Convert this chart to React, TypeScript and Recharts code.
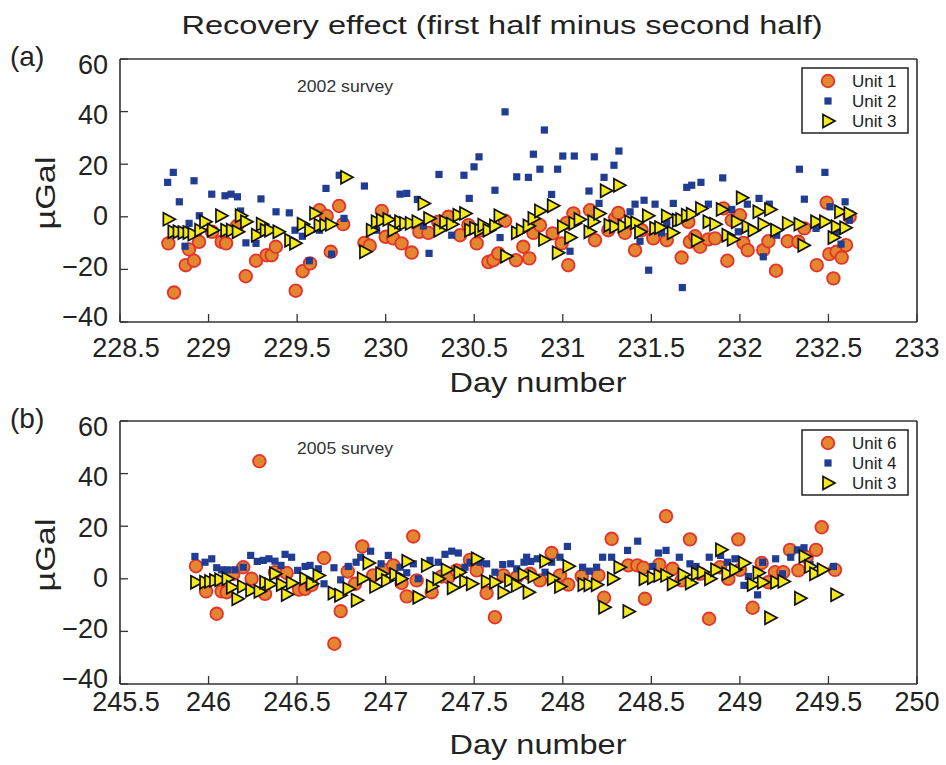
import React from 'react';
import { ScatterChart, Scatter, XAxis, YAxis } from 'recharts';

const FONT = '"Liberation Sans", Arial, Helvetica, sans-serif';
const INK = '#222';
const AX = '#333';

// 2002 survey: [day number, µGal]
const unit1_2002: [number, number][] = [
  [228.773, -10.1], [228.805, -28.8], [228.871, -18.4], [228.89, -12.4], [228.918, -16.7], [228.946, -9.5],
  [229.02, -5.7], [229.074, -9.5], [229.099, -10.1], [229.16, -3.5], [229.21, -22.6], [229.268, -16.7],
  [229.328, -14.6], [229.356, -14.6], [229.38, -11.4], [229.492, -28.1], [229.531, -20.7], [229.573, -17.7],
  [229.626, 2.5], [229.667, 0.3], [229.69, -13.3], [229.737, 4.1], [229.76, -2.8], [229.88, -9.9],
  [229.91, -11], [229.978, 2.2], [230.0, -7.6], [230.043, -8.2], [230.09, -10.1], [230.147, -13.6],
  [230.19, -5.7], [230.241, -6.1], [230.297, -1.9], [230.354, 0], [230.42, -7.0], [230.467, -3.2],
  [230.514, -10.1], [230.533, -5.1], [230.58, -17.2], [230.608, -16.5], [230.636, -13.9], [230.674, -1.5],
  [230.736, -16.5], [230.777, -11.4], [230.811, -15.8], [230.834, -6.1], [230.871, -3.2], [230.943, -6.3],
  [230.994, -10.1], [231.022, -2.3], [231.031, -18.4], [231.06, 1.3], [231.154, 2.5], [231.182, -8.9],
  [231.257, -5.1], [231.295, -0.6], [231.314, 1.5], [231.351, -6.1], [231.408, -12.7], [231.445, -5.1],
  [231.511, -8.2], [231.587, -8.9], [231.671, -15.5], [231.709, -1.9], [231.718, -9.5], [231.747, -7.4],
  [231.775, -11.4], [231.822, -8.6], [231.86, -8.2], [231.907, 3.2], [231.929, -16.7], [231.954, -1.3],
  [232.0, 0.6], [232.02, -9.9], [232.044, -12.7], [232.132, -12.7], [232.161, -9.3], [232.204, -20.5],
  [232.27, -9.3], [232.33, -9.5], [232.364, -4.4], [232.434, -18.4], [232.49, 5.4], [232.505, -14.2],
  [232.528, -23.4], [232.546, -13.3], [232.575, -15.5], [232.599, -10.8], [232.62, 0],
];

const unit2_2002: [number, number][] = [
  [228.769, 13.1], [228.801, 16.9], [228.835, 5.7], [228.867, -11.2], [228.89, -2.5], [228.918, 13.7],
  [228.948, 0.4], [229.018, 8.6], [229.093, 8.0], [229.127, 8.6], [229.163, 7.6], [229.181, 2.2],
  [229.211, -9.9], [229.268, -10.1], [229.296, 6.8], [229.381, 1.9], [229.456, 1.5], [229.488, -5.1],
  [229.53, -7.4], [229.569, -16.7], [229.626, -5.1], [229.663, 10.8], [229.695, -14.2], [229.738, 15.8],
  [229.765, -0.6], [229.88, 11.7], [229.949, -5.1], [230.01, -0.5], [230.081, 8.6], [230.119, 8.9],
  [230.179, 6.6], [230.213, -3.5], [230.245, -13.9], [230.301, 16.1], [230.373, -7.0], [230.442, 15.8],
  [230.472, 7.0], [230.499, 19.0], [230.527, 22.8], [230.617, 10.1], [230.646, -7.9], [230.674, 39.9],
  [230.74, 15.2], [230.806, 15.0], [230.834, 23.8], [230.871, 18.1], [230.896, 33.0], [230.937, 8.5],
  [230.971, 18.1], [231.0, 23.1], [231.041, -13.1], [231.065, 23.1], [231.148, 9.8], [231.178, 22.8],
  [231.205, 5.1], [231.233, 15.0], [231.289, 19.6], [231.317, 25.0], [231.38, 1.9], [231.408, 4.8],
  [231.436, -9.3], [231.459, 6.3], [231.485, -20.3], [231.521, 4.8], [231.558, -6.1], [231.587, -2.3],
  [231.624, 5.1], [231.675, -26.9], [231.7, 11.2], [231.728, 12.0], [231.78, 13.1], [231.822, 4.8],
  [231.903, 14.8], [231.954, 2.8], [231.991, -5.7], [232.042, 4.8], [232.108, 7.0], [232.132, -15.2],
  [232.166, 4.8], [232.208, -7.0], [232.336, 18.1], [232.364, 6.7], [232.43, -4.4], [232.48, 16.9],
  [232.509, 3.8], [232.546, -5.7], [232.571, -10.4], [232.594, 5.7], [232.618, -1.3],
];

const unit3_2002: [number, number][] = [
  [228.773, -0.9], [228.801, -5.7], [228.83, -5.7], [228.858, -6.0], [228.886, -6.0], [228.914, -6.6],
  [228.952, -5.1], [228.98, -1.9], [229.023, -5.1], [229.07, 0.4], [229.099, -5.1], [229.131, -5.1],
  [229.164, -5.7], [229.181, 0.4], [229.211, -1.9], [229.272, -7.0], [229.3, -2.8], [229.322, -5.1],
  [229.347, -5.1], [229.394, -5.7], [229.46, -8.9], [229.488, -10.1], [229.531, -2.8], [229.573, -5.1],
  [229.601, 1.3], [229.626, -3.2], [229.658, -3.2], [229.69, -2.9], [229.776, 15.0], [229.883, -13.3],
  [229.921, -5.1], [229.949, -1.9], [229.978, -1.3], [230.015, -1.0], [230.043, -5.1], [230.081, -1.9],
  [230.109, -2.5], [230.141, -2.5], [230.179, -1.9], [230.213, 5.1], [230.245, -0.6], [230.303, -5.1],
  [230.335, -1.9], [230.373, -2.8], [230.41, 0.6], [230.448, 1.3], [230.476, -5.1], [230.504, -4.4],
  [230.533, -5.1], [230.551, -3.2], [230.58, -5.1], [230.617, -3.5], [230.642, 0.4], [230.679, -15.0],
  [230.74, -6.1], [230.768, -5.1], [230.806, -3.5], [230.834, -0.6], [230.871, 2.2], [230.894, -8.6],
  [230.943, 4.2], [230.971, -13.7], [231.0, -3.8], [231.041, -7.9], [231.065, -2.5], [231.094, -1.0],
  [231.15, -5.7], [231.172, -1.9], [231.205, 1.3], [231.242, 9.9], [231.263, -3.2], [231.295, -3.8],
  [231.317, 12.0], [231.342, -3.5], [231.38, -1.9], [231.414, -2.3], [231.436, -5.7], [231.48, 0.4],
  [231.521, -4.4], [231.549, -4.1], [231.587, 0.3], [231.62, -6.1], [231.649, -1.3], [231.668, -1.0],
  [231.7, 0.6], [231.728, 1.0], [231.756, -8.9], [231.78, 3.2], [231.822, -1.9], [231.86, -2.8],
  [231.897, 2.8], [231.929, -7.0], [231.959, -8.6], [231.982, -1.9], [232.01, 7.2], [232.042, -3.8],
  [232.076, -5.1], [232.104, 1.9], [232.132, -2.8], [232.17, 2.8], [232.204, -5.1], [232.27, -2.5],
  [232.336, -2.8], [232.358, -10.8], [232.43, -1.9], [232.48, -1.9], [232.528, -7.9], [232.546, -3.8],
  [232.565, 1.9], [232.594, -4.2], [232.618, 1.3],
];

// 2005 survey
const unit6_2005: [number, number][] = [
  [245.929, 4.8], [245.986, -4.8], [246.046, -13.3], [246.074, -4.8], [246.102, -5.1], [246.14, 1.9],
  [246.196, 4.4], [246.243, 0], [246.287, 44.7], [246.319, -5.7], [246.375, 2.5], [246.441, 2.2],
  [246.511, -4.1], [246.545, -3.8], [246.582, -2.3], [246.652, 7.9], [246.71, -24.7], [246.746, -12.3],
  [246.786, 2.8], [246.827, -1.9], [246.868, 12.3], [246.93, 1.3], [246.987, 3.4], [247.043, 5.1],
  [247.09, -1.6], [247.119, -6.7], [247.156, 16.1], [247.175, -0.6], [247.26, -5.1], [247.316, 0.9],
  [247.354, 0.6], [247.401, 3.2], [247.476, 7.2], [247.514, 3.2], [247.57, -5.4], [247.617, -14.6],
  [247.664, 1.3], [247.74, 0.6], [247.815, 1.9], [247.871, -0.6], [247.937, 9.8], [247.984, 1.3],
  [248.031, -2.2], [248.107, 0.9], [248.201, 1.3], [248.233, -7.2], [248.276, 15.2], [248.37, 5.1],
  [248.421, 5.1], [248.455, 4.2], [248.464, -7.6], [248.545, 5.4], [248.583, 23.8], [248.62, 3.8],
  [248.671, -0.6], [248.718, 15.0], [248.775, 1.9], [248.826, -15.2], [248.888, 4.4], [248.935, 0],
  [248.991, 15.0], [249.0, 3.4], [249.072, -11.0], [249.123, 6.0], [249.16, -1.3], [249.198, 2.5],
  [249.245, 2.5], [249.283, 11.0], [249.33, 3.2], [249.377, 8.2], [249.43, 11.0], [249.462, 19.6],
  [249.537, 3.4],
];

const unit4_2005: [number, number][] = [
  [245.923, 8.5], [245.98, 6.3], [246.018, 7.6], [246.046, 4.2], [246.074, 3.4], [246.106, 3.4],
  [246.149, 3.4], [246.196, 4.4], [246.238, 8.9], [246.275, 6.6], [246.309, 7.0], [246.341, 7.6],
  [246.375, 6.7], [246.409, 5.1], [246.432, 9.3], [246.469, 8.2], [246.503, 3.2], [246.545, 4.7],
  [246.573, 5.1], [246.62, 3.8], [246.652, -1.9], [246.708, 4.2], [246.746, -0.4], [246.789, 4.7],
  [246.833, 6.3], [246.859, 8.2], [246.915, 10.5], [246.974, 5.7], [247.015, 8.9], [247.081, 4.4],
  [247.119, 2.3], [247.156, 5.7], [247.184, 0], [247.25, 7.0], [247.297, 6.3], [247.335, 9.3],
  [247.373, 10.5], [247.41, 9.8], [247.448, 4.4], [247.476, 6.3], [247.533, 6.3], [247.57, 5.7],
  [247.617, 2.5], [247.661, 5.4], [247.706, 5.7], [247.74, 3.8], [247.781, 6.3], [247.796, 8.2],
  [247.819, 6.6], [247.856, 7.6], [247.9, 2.5], [247.937, 6.3], [247.984, 8.2], [248.026, 12.3],
  [248.112, 4.4], [248.15, 2.9], [248.191, 4.4], [248.225, 8.2], [248.276, 8.2], [248.366, 10.8],
  [248.423, 14.3], [248.508, 4.7], [248.54, 9.8], [248.583, 10.8], [248.658, 8.2], [248.718, 5.7],
  [248.752, 4.7], [248.827, 8.2], [248.891, 8.9], [248.929, 6.3], [248.972, 7.6], [249.023, -2.5],
  [249.048, 0.9], [249.1, -6.1], [249.129, 6.3], [249.202, 7.6], [249.24, 1.9], [249.287, 8.2],
  [249.324, 11.0], [249.362, 11.8], [249.396, 5.4], [249.528, 4.7],
];

const unit3_2005: [number, number][] = [
  [245.929, -1.3], [245.98, -1.3], [246.008, -1.0], [246.036, -0.6], [246.065, -0.4], [246.106, 0],
  [246.131, -3.2], [246.162, -7.6], [246.193, -2.9], [246.24, -4.4], [246.287, -4.8], [246.319, -1.3],
  [246.347, -2.2], [246.375, 1.9], [246.413, -2.2], [246.441, -6.0], [246.469, -1.6], [246.545, 0],
  [246.582, -1.9], [246.62, 1.3], [246.705, -5.4], [246.742, -6.3], [246.789, -3.8], [246.836, -8.2],
  [246.87, 0], [246.902, 6.0], [246.94, -2.9], [246.974, 1.9], [247.006, -0.6], [247.053, 1.6],
  [247.087, 0], [247.122, 6.7], [247.184, -7.0], [247.232, 5.1], [247.26, -2.8], [247.297, 0],
  [247.344, 3.4], [247.378, -3.4], [247.416, 2.5], [247.448, -0.9], [247.486, -1.9], [247.514, 7.6],
  [247.57, -1.0], [247.617, -1.3], [247.664, -5.1], [247.702, -0.6], [247.74, -2.5], [247.778, 1.6],
  [247.806, -5.1], [247.834, 0.9], [247.9, 6.7], [247.943, 0], [247.984, -2.9], [248.031, 4.8],
  [248.116, -2.2], [248.15, -2.3], [248.191, -2.3], [248.233, -10.8], [248.282, 0], [248.319, 4.4],
  [248.37, -12.4], [248.461, 0], [248.508, 0.4], [248.545, 1.3], [248.583, 1.3], [248.62, -1.9],
  [248.681, 1.5], [248.722, -1.6], [248.756, 1.9], [248.79, 2.5], [248.831, 0], [248.865, 3.4],
  [248.893, 11.0], [248.929, 1.9], [248.972, 3.4], [249.023, 6.0], [249.072, -2.2], [249.104, 2.3],
  [249.129, -1.3], [249.17, -14.8], [249.204, -1.3], [249.245, -1.0], [249.339, -7.4], [249.364, 8.5],
  [249.396, 4.7], [249.424, 1.9], [249.467, 3.4], [249.543, -6.1],
];

const ticks2002 = [228.5, 229, 229.5, 230, 230.5, 231, 231.5, 232, 232.5, 233];
const ticks2005 = [245.5, 246, 246.5, 247, 247.5, 248, 248.5, 249, 249.5, 250];
const yTicks = [-40, -20, 0, 20, 40, 60];

const legend2002 = ['Unit 1', 'Unit 2', 'Unit 3'];
const legend2005 = ['Unit 6', 'Unit 4', 'Unit 3'];

const toPoints = (rows: [number, number][]) => rows.map(([x, y]) => ({ x, y }));

// marker glyphs
const circleMark = (cx: number, cy: number) => (
  <circle cx={cx} cy={cy} r={6.3} fill="#E4852F" stroke="#E3332A" strokeWidth={1.8} />
);
const squareMark = (cx: number, cy: number) => (
  <rect x={cx - 3.6} y={cy - 3.6} width={7.2} height={7.2} fill="#203C93" />
);
const triMark = (cx: number, cy: number) => (
  <path
    d={`M${cx - 5},${cy - 6.5} L${cx + 7},${cy} L${cx - 5},${cy + 6.5} Z`}
    fill="#F5EA14"
    stroke="#111"
    strokeWidth={1.7}
  />
);
const marks = [circleMark, squareMark, triMark];

// first label of each day axis sits a little right of its tick
const XTick = ({ x, y, payload, index, dy }: any) => (
  <text x={x + (index === 0 ? 6 : 0)} y={y + dy} textAnchor="middle" fontSize={27} fontFamily={FONT} fill={INK}>
    {payload.value}
  </text>
);

// value labels are pulled slightly towards the middle of the panel (centre at y = 190.5)
const YTick = ({ x, y, payload }: any) => (
  <text x={x} y={y + 9.5 + (190.5 - y) * 0.04} textAnchor="end" fontSize={27} fontFamily={FONT} fill={INK}>
    {String(payload.value).replace('-', '\u2212')}
  </text>
);

type PanelProps = {
  height: number;
  domain: [number, number];
  ticks: number[];
  series: [number, number][][];
  labelDy: number;
};

function Panel({ height, domain, ticks, series, labelDy }: PanelProps) {
  const axisLine = { stroke: AX, strokeWidth: 1.6 };
  const tickLine = { stroke: AX, strokeWidth: 1.3 };
  return (
    <ScatterChart width={946} height={height} margin={{ top: 58, right: 28, bottom: 0, left: 0 }}>
      <XAxis
        xAxisId="b"
        type="number"
        dataKey="x"
        domain={domain}
        ticks={ticks}
        interval={0}
        allowDataOverflow
        height={height - 322}
        tickSize={-8}
        tickMargin={8}
        axisLine={axisLine}
        tickLine={tickLine}
        tick={(p: any) => <XTick {...p} dy={labelDy} />}
      />
      <XAxis
        xAxisId="t"
        orientation="top"
        type="number"
        domain={domain}
        ticks={ticks}
        interval={0}
        allowDataOverflow
        height={1}
        tickSize={-8}
        axisLine={axisLine}
        tickLine={tickLine}
        tick={false}
      />
      <YAxis
        yAxisId="l"
        type="number"
        dataKey="y"
        domain={[-40, 60]}
        ticks={yTicks}
        interval={0}
        allowDataOverflow
        width={120}
        tickSize={-8}
        tickMargin={20}
        axisLine={axisLine}
        tickLine={tickLine}
        tick={(p: any) => <YTick {...p} />}
      />
      <YAxis
        yAxisId="r"
        orientation="right"
        type="number"
        domain={[-40, 60]}
        ticks={yTicks}
        interval={0}
        allowDataOverflow
        width={1}
        tickSize={-8}
        axisLine={axisLine}
        tickLine={tickLine}
        tick={false}
      />
      {series.map((rows, i) => (
        <Scatter
          key={i}
          xAxisId="b"
          yAxisId="l"
          data={toPoints(rows)}
          isAnimationActive={false}
          shape={(p: any) => marks[i](p.cx, p.cy)}
        />
      ))}
    </ScatterChart>
  );
}

function LegendBox({ x, y, labels }: { x: number; y: number; labels: string[] }) {
  return (
    <g>
      <rect x={x} y={y} width={106} height={65} fill="#fff" stroke={INK} strokeWidth={1.5} />
      {labels.map((lab, i) => {
        const cy = y + 13 + i * 20;
        return (
          <g key={lab + i}>
            {marks[i](x + 26, cy)}
            <text x={x + 50} y={cy + 6} fontSize={17} fontFamily={FONT} fill={INK}>
              {lab}
            </text>
          </g>
        );
      })}
    </g>
  );
}

function PanelText({ offset, tag, survey, labels }: { offset: number; tag: string; survey: string; labels: string[] }) {
  return (
    <g transform={`translate(0,${offset})`}>
      <text x={10} y={66} fontSize={28} fontFamily={FONT} fill={INK}>{tag}</text>
      <text x={297} y={92} fontSize={17} fontFamily={FONT} fill="#333" textLength={96} lengthAdjust="spacingAndGlyphs">
        {survey}
      </text>
      <text
        transform="translate(55,193) rotate(-90)"
        textAnchor="middle"
        fontSize={28}
        fontFamily={FONT}
        fill={INK}
        textLength={73}
        lengthAdjust="spacingAndGlyphs"
      >
        µGal
      </text>
      <text x={538} y={392} textAnchor="middle" fontSize={28} fontFamily={FONT} fill={INK} textLength={177} lengthAdjust="spacingAndGlyphs">
        Day number
      </text>
      <LegendBox x={802} y={68} labels={labels} />
    </g>
  );
}

export default function App() {
  return (
    <div style={{ position: 'absolute', left: 0, top: 0, width: 946, height: 765, background: '#fff', overflow: 'hidden' }}>
      <div style={{ position: 'absolute', left: 0, top: 0 }}>
        <Panel height={400} domain={[228.5, 233]} ticks={ticks2002} series={[unit1_2002, unit2_2002, unit3_2002]} labelDy={35} />
      </div>
      <div style={{ position: 'absolute', left: 0, top: 362 }}>
        <Panel height={403} domain={[245.5, 250]} ticks={ticks2005} series={[unit6_2005, unit4_2005, unit3_2005]} labelDy={27} />
      </div>
      <svg width={946} height={765} style={{ position: 'absolute', left: 0, top: 0, pointerEvents: 'none' }}>
        <text x={502} y={34} textAnchor="middle" fontSize={26} fontFamily={FONT} fill={INK} textLength={641} lengthAdjust="spacingAndGlyphs">
          Recovery effect (first half minus second half)
        </text>
        <PanelText offset={0} tag="(a)" survey="2002 survey" labels={legend2002} />
        <PanelText offset={362} tag="(b)" survey="2005 survey" labels={legend2005} />
      </svg>
    </div>
  );
}
